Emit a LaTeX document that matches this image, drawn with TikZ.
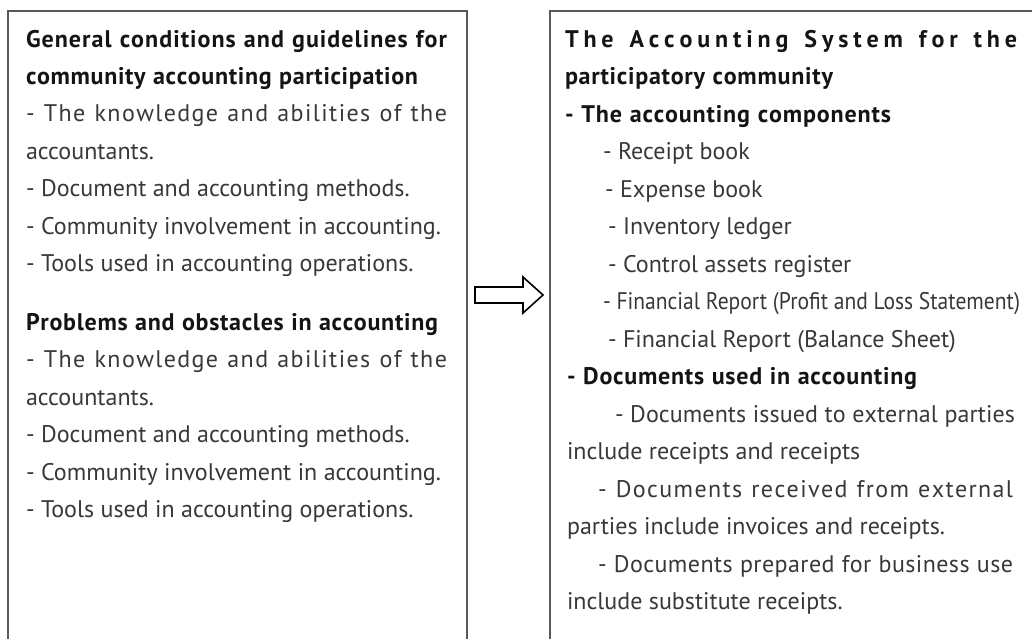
\documentclass[tikz,border=0pt]{standalone}
\usepackage{fontspec}
\setmainfont{PT Sans}
\usepackage{graphicx}
\newlength\calw
\def\spread#1{\spreadA#1\relax}
\def\spreadA#1{#1\spreadB}
\def\spreadB#1{\ifx#1\relax\else\hfil#1\expandafter\spreadB\fi}
\tikzset{
  txt/.style={anchor=base west, inner sep=0pt, outer sep=0pt, font=\bodyfont, text=black!78},
  hdr/.style={txt, font=\bodyfont\bfseries, text=black!92},
  boxline/.style={draw=black!65, line width=1.5pt},
  blockarrow/.style={draw=black, line width=1.6pt, line join=miter}
}
\begin{document}
\settowidth\calw{\fontsize{10pt}{12pt}\selectfont parties include invoices and receipts.}
\pgfmathsetmacro\fs{10*378/\calw}
\def\bodyfont{\fontsize{\fs pt}{\fs pt}\selectfont}
\def\xL{26}
\pgfmathsetmacro\wL{447-\xL}
\pgfmathsetmacro\wLa{418-\xL}
\pgfmathsetmacro\wLb{438-\xL}
\def\xB{8}
\begin{tikzpicture}[x=1pt,y=-1pt]
\clip (0,0) rectangle (1032,638);
\useasboundingbox (0,0) rectangle (1032,638);
% boxes
\coordinate (lb1) at (\xB,660);
\coordinate (lb2) at (\xB,11);
\coordinate (lb3) at (467,11);
\coordinate (lb4) at (467,660);
\coordinate (rb1) at (550,660);
\coordinate (rb2) at (550,11);
\coordinate (rb3) at (1045,11);
\coordinate (rb4) at (1045,660);
\draw[boxline] (lb1) -- (lb2) -- (lb3) -- (lb4);
\draw[boxline] (rb1) -- (rb2) -- (rb3) -- (rb4);
% arrow
\coordinate (a1) at (475,287);
\coordinate (a2) at (523,287);
\coordinate (a3) at (523,277);
\coordinate (a4) at (543,295);
\coordinate (a5) at (523,313);
\coordinate (a6) at (523,303);
\coordinate (a7) at (475,303);
\draw[blockarrow] (a1) -- (a2) -- (a3) -- (a4) -- (a5) -- (a6) -- (a7) -- cycle;
% left box
\node[hdr] (L0) at (\xL,47) {\makebox[\wL pt][s]{\spread{General~conditions~and~guidelines~for}}};
\node[hdr] (L1) at (\xL,84) {\makebox[\wLa pt][s]{\spread{community~accounting~participation}}};
\node[txt] (L2) at (\xL,121.5) {\makebox[\wL pt][s]{\spread{-~The~knowledge~and~abilities~of~the}}};
\node[txt] (L3) at (\xL,159) {accountants.};
\node[txt] (L4) at (\xL,196.5) {- Document and accounting methods.};
\node[txt] (L5) at (\xL,234) {- Community involvement in accounting.};
\node[txt] (L6) at (\xL,271.5) {- Tools used in accounting operations.};
\node[hdr] (P0) at (\xL,330) {\makebox[\wLb pt][s]{\spread{Problems~and~obstacles~in~accounting}}};
\node[txt] (P1) at (\xL,367.5) {\makebox[\wL pt][s]{\spread{-~The~knowledge~and~abilities~of~the}}};
\node[txt] (P2) at (\xL,405) {accountants.};
\node[txt] (P3) at (\xL,442.5) {- Document and accounting methods.};
\node[txt] (P4) at (\xL,480) {- Community involvement in accounting.};
\node[txt] (P5) at (\xL,517.5) {- Tools used in accounting operations.};
% right box
\node[hdr] (R0) at (565,47) {\makebox[452pt][s]{\spread{The~Accounting~System~for~the}}};
\node[hdr] (R1) at (565,84.5) {\makebox[268pt][s]{\spread{participatory~community}}};
\node[hdr] (R2) at (565,122) {\makebox[326pt][s]{\spread{-~The~accounting~components}}};
\node[txt] (R3) at (603,159.5) {- Receipt book};
\node[txt] (R4) at (605,197) {- Expense book};
\node[txt] (R5) at (608,234.5) {- Inventory ledger};
\node[txt] (R6) at (608,272) {- Control assets register};
\node[txt] (R7) at (603,309.5) {\resizebox{417pt}{\height}{- Financial Report (Profit and Loss Statement)}};
\node[txt] (R8) at (608,347) {- Financial Report (Balance Sheet)};
\node[hdr] (R9) at (567,384.5) {\makebox[350pt][s]{\spread{-~Documents~used~in~accounting}}};
\node[txt] (R10) at (615,422) {\makebox[400pt][s]{\spread{-~Documents~issued~to~external~parties}}};
\node[txt] (R11) at (567,459.5) {include receipts and receipts};
\node[txt] (R12) at (598,497) {\makebox[415pt][s]{\spread{-~Documents~received~from~external}}};
\node[txt] (R13) at (567,534.5) {parties include invoices and receipts.};
\node[txt] (R14) at (598,572) {\makebox[415pt][s]{\spread{-~Documents~prepared~for~business~use}}};
\node[txt] (R15) at (567,609.5) {include substitute receipts.};
\end{tikzpicture}
\end{document}
